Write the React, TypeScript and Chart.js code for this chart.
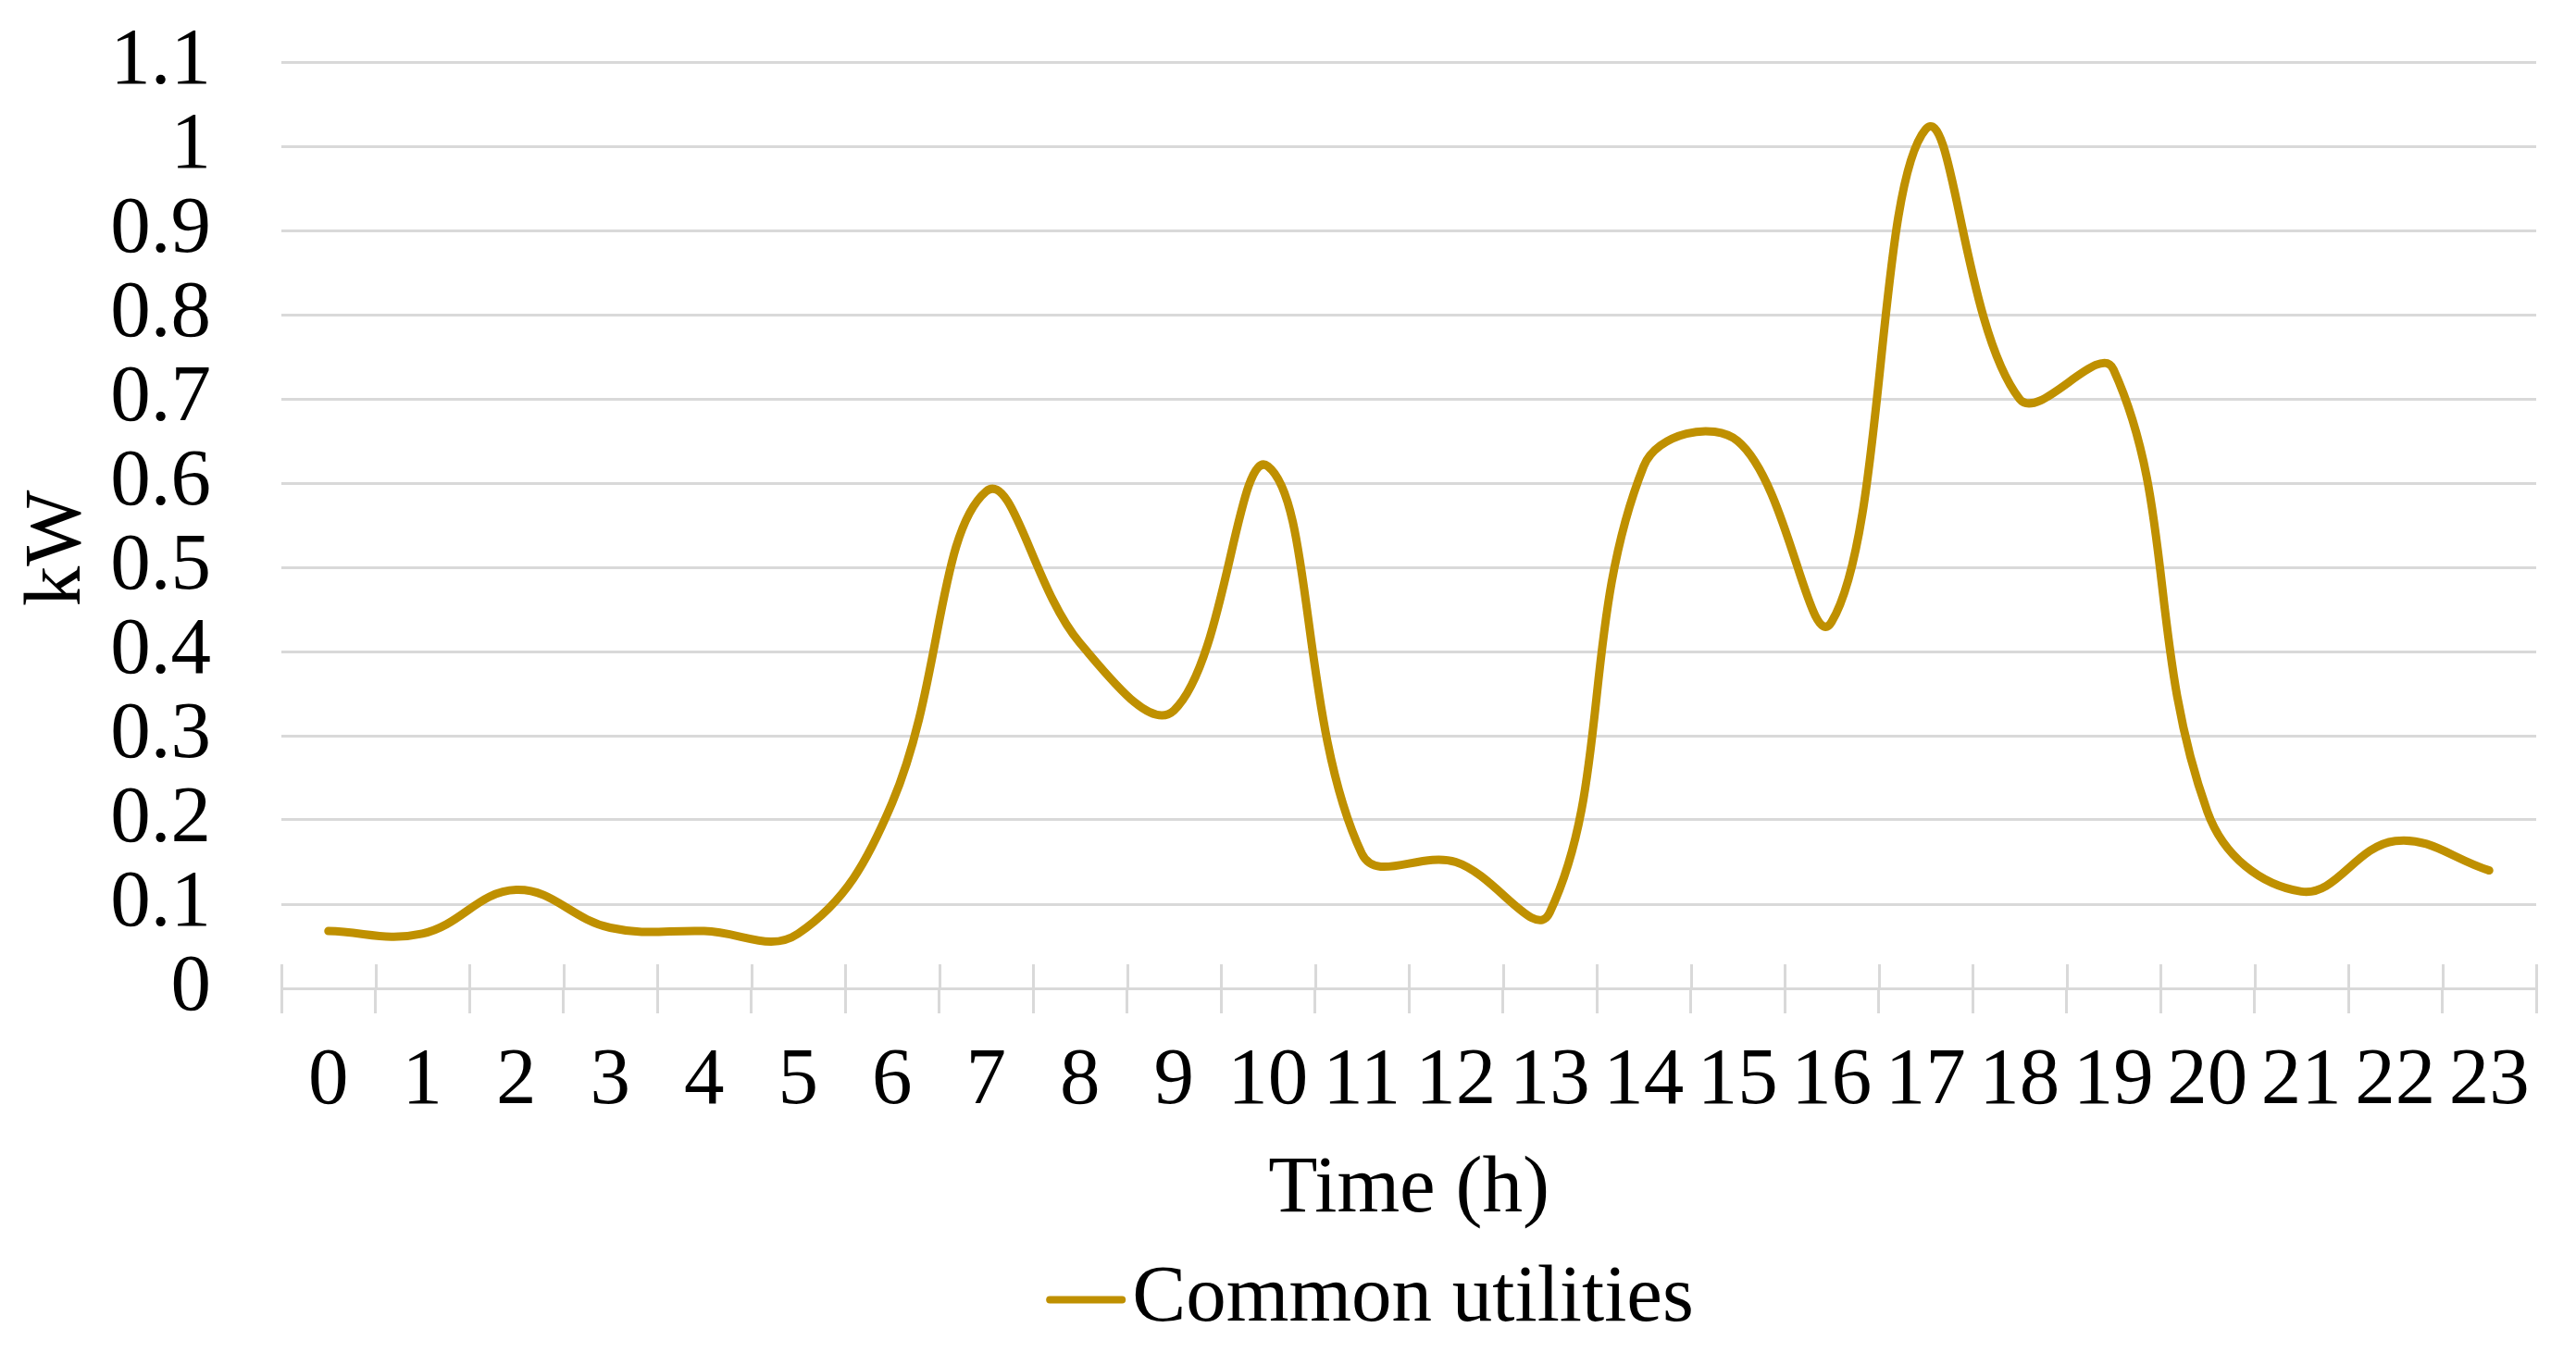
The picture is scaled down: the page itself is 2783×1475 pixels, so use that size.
import React, { useEffect, useRef } from 'react';
import { Chart, registerables } from 'chart.js';

Chart.register(...registerables);

// ---- data ----
const hours = ['0', '1', '2', '3', '4', '5', '6', '7', '8', '9', '10', '11', '12', '13', '14', '15', '16', '17', '18', '19', '20', '21', '22', '23'];
const commonUtilities = [0.068, 0.065, 0.117, 0.072, 0.068, 0.065, 0.22, 0.59, 0.41, 0.33, 0.62, 0.16, 0.15, 0.09, 0.62, 0.65, 0.435, 1.02, 0.7, 0.735, 0.21, 0.115, 0.175, 0.14];
const yTickValues = [0, 0.1, 0.2, 0.3, 0.4, 0.5, 0.6, 0.7, 0.8, 0.9, 1.0, 1.1];
const seriesName = 'Common utilities';
const xTitle = 'Time (h)';
const yTitle = 'kW';

// ---- styles ----
const FONT_FAMILY = "'Liberation Serif', 'Times New Roman', serif";
const FONT_SIZE = 87;
const GRID = '#d9d9d9';
const LINE = '#bf9000';
const W = 2783;
const H = 1475;
const LEGEND_SHIFT = 42;
const LEGEND_LINE_LEN = 86;
const Y_TITLE_X = 63;
const Y_TITLE_SHIFT = 25;

const upTicks = {
  id: 'upTicks',
  beforeDatasetsDraw(chart: any) {
    const xs = chart.scales.x;
    const ctx = chart.ctx;
    ctx.save();
    ctx.strokeStyle = GRID;
    ctx.lineWidth = 3;
    for (let i = 0; i <= hours.length; i++) {
      const x = Math.round(xs.getPixelForValue(i - 0.5)) + 0.5;
      ctx.beginPath();
      ctx.moveTo(x, xs.top);
      ctx.lineTo(x, xs.top - 26);
      ctx.stroke();
    }
    ctx.restore();
  },
};

const yTitlePlugin = {
  id: 'yTitlePlugin',
  afterDraw(chart: any) {
    const ys = chart.scales.y;
    const ctx = chart.ctx;
    ctx.save();
    ctx.translate(Y_TITLE_X, (ys.top + ys.bottom) / 2 + Y_TITLE_SHIFT);
    ctx.rotate(-Math.PI / 2);
    ctx.fillStyle = '#000';
    ctx.font = `${FONT_SIZE}px ${FONT_FAMILY}`;
    ctx.textAlign = 'center';
    ctx.textBaseline = 'middle';
    ctx.fillText(yTitle, 0, 0);
    ctx.restore();
  },
};

const legendLine = {
  id: 'legendLine',
  afterLayout(chart: any) {
    const lg = chart.legend;
    if (!lg) return;
    lg.left -= LEGEND_SHIFT;
    lg.right -= LEGEND_SHIFT;
  },
  afterDraw(chart: any) {
    const lg = chart.legend;
    const hb = lg && lg.legendHitBoxes && lg.legendHitBoxes[0];
    if (!hb) return;
    const ctx = chart.ctx;
    const y = hb.top + hb.height / 2;
    ctx.save();
    ctx.strokeStyle = LINE;
    ctx.lineWidth = 8;
    ctx.lineCap = 'round';
    ctx.beginPath();
    ctx.moveTo(hb.left + 4, y);
    ctx.lineTo(hb.left + LEGEND_LINE_LEN - 4, y);
    ctx.stroke();
    ctx.restore();
  },
};

export default function App() {
  const ref = useRef<HTMLCanvasElement | null>(null);

  useEffect(() => {
    if (!ref.current) return;
    const font = { family: FONT_FAMILY, size: FONT_SIZE };
    const chart = new Chart(ref.current, {
      type: 'line',
      data: {
        labels: hours,
        datasets: [
          {
            label: seriesName,
            data: commonUtilities,
            borderColor: LINE,
            backgroundColor: LINE,
            borderWidth: 9,
            pointRadius: 0,
            pointHoverRadius: 0,
            tension: 0.4,
            fill: false,
            borderCapStyle: 'round',
            borderJoinStyle: 'round',
          },
        ],
      },
      options: {
        animation: false,
        responsive: false,
        devicePixelRatio: 1,
        layout: { padding: { left: 0, right: 43, top: 67, bottom: 17 } },
        plugins: {
          tooltip: { enabled: false },
          legend: {
            display: true,
            position: 'bottom',
            fullSize: false,
            labels: {
              font,
              color: '#000',
              boxWidth: 49.5,
              boxHeight: 8,
              padding: 10,
              generateLabels: (c: any) =>
                c.data.datasets.map((ds: any, i: number) => ({
                  text: ds.label,
                  fillStyle: 'rgba(0,0,0,0)',
                  strokeStyle: 'rgba(0,0,0,0)',
                  lineWidth: 0,
                  hidden: false,
                  datasetIndex: i,
                  fontColor: '#000',
                })),
            },
          },
        },
        scales: {
          x: {
            type: 'category',
            offset: true,
            grid: {
              offset: true,
              drawOnChartArea: false,
              drawTicks: true,
              tickLength: 27,
              color: GRID,
              lineWidth: 3,
              tickColor: GRID,
              tickWidth: 3,
            },
            border: { display: true, color: GRID, width: 3 },
            ticks: {
              autoSkip: false,
              maxRotation: 0,
              minRotation: 0,
              padding: 22,
              color: '#000',
              font,
            },
            title: {
              display: true,
              text: xTitle,
              color: '#000',
              font,
              padding: { top: 0, bottom: 13 },
            },
            afterFit: (s: any) => {
              s.height = 283;
            },
          },
          y: {
            type: 'linear',
            min: 0,
            max: 1.1,
            afterBuildTicks: (s: any) => {
              s.ticks = yTickValues.map((v) => ({ value: v }));
            },
            grid: {
              color: GRID,
              lineWidth: 3,
              drawTicks: true,
              tickLength: 76,
              tickColor: 'rgba(0,0,0,0)',
            },
            border: { display: false },
            ticks: {
              autoSkip: false,
              padding: 0,
              color: '#000',
              font,
              callback: (v: any) => String(Math.round(Number(v) * 10) / 10),
            },
            title: { display: false, text: yTitle },
            afterFit: (s: any) => {
              s.width = 304;
            },
          },
        },
      },
      plugins: [upTicks, legendLine, yTitlePlugin],
    } as any);
    return () => chart.destroy();
  }, []);

  return (
    <div style={{ position: 'fixed', left: 0, top: 0, width: W, height: H, background: '#fff' }}>
      <canvas ref={ref} width={W} height={H} style={{ display: 'block', width: W, height: H }} />
    </div>
  );
}
